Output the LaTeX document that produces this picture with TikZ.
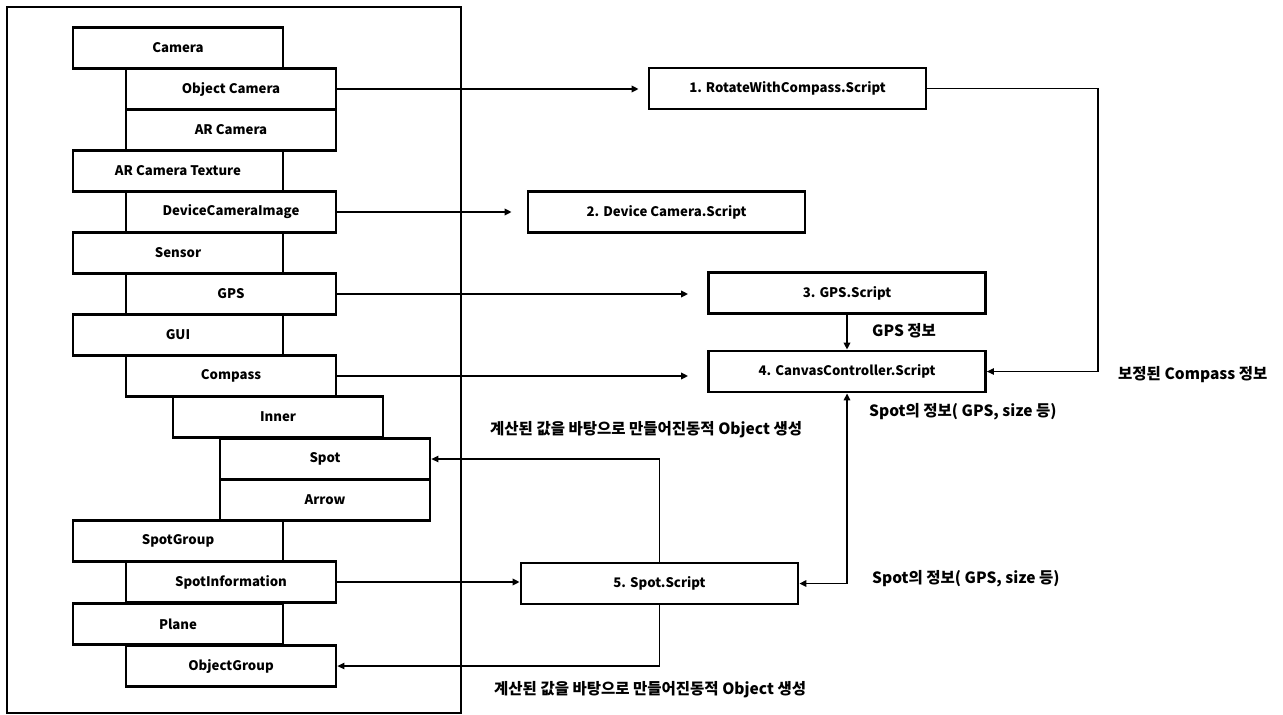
\documentclass[tikz,border=0pt]{standalone}
\usepackage{fontspec}
\setmainfont{Noto Sans CJK KR}
\usetikzlibrary{arrows.meta}
\begin{document}
\begin{tikzpicture}[x=1pt,y=-1pt,
  txt/.style={font=\bfseries\fontsize{13.2}{15}\selectfont},
  ltxt/.style={font=\bfseries\fontsize{15.5}{18}\selectfont},
  lbox/.style={draw, line width=2.8pt, minimum width=210pt, minimum height=41pt, inner sep=0pt, txt},
  sbox/.style={draw, line width=2.8pt, minimum width=277pt, minimum height=41pt, inner sep=0pt, txt},
  arr/.style={-{Triangle[length=7pt,width=6.5pt]}, line width=1.8pt},
  thin arr/.style={-{Triangle[length=7pt,width=6.5pt]}, line width=1.2pt},
  lbl/.style={ltxt, anchor=west, inner sep=0pt}
]
\useasboundingbox (0,0) rectangle (1283,715);
\fill[white] (0,0) rectangle (1283,715);
% frame
\draw[line width=2.4pt] (7,7) rectangle (461,713);
% left hierarchy
\node[lbox] (camera) at (178,48) {Camera};
\node[lbox] (objcam) at (231,89) {Object Camera};
\node[lbox] (arcam) at (231,130) {AR Camera};
\node[lbox] (artex) at (178,171) {AR Camera Texture};
\node[lbox] (devimg) at (231,212) {DeviceCameraImage};
\node[lbox] (sensor) at (178,253) {Sensor};
\node[lbox] (gps) at (231,294) {GPS};
\node[lbox] (gui) at (178,335) {GUI};
\node[lbox] (compass) at (231,376) {Compass};
\node[lbox] (inner) at (278,417) {Inner};
\node[lbox] (spot) at (325,459) {Spot};
\node[lbox] (arrow) at (325,500) {Arrow};
\node[lbox] (spotgroup) at (178,541) {SpotGroup};
\node[lbox] (spotinfo) at (231,582) {SpotInformation};
\node[lbox] (plane) at (178,624) {Plane};
\node[lbox] (objgroup) at (231,666) {ObjectGroup};
% scripts
\node[sbox] (rot) at (787.5,88.5) {1. RotateWithCompass.Script};
\node[sbox] (dev) at (666.5,212) {2. Device Camera.Script};
\node[sbox] (gpss) at (847,293) {3. GPS.Script};
\node[sbox] (canvas) at (847,371.5) {4. CanvasController.Script};
\node[sbox] (spots) at (659.5,583.5) {5. Spot.Script};
% connectors from left
\draw[arr, line width=2.2pt, shorten >=9pt] (objcam.east) -- (objcam.east -| rot.west);
\draw[arr, shorten >=15pt] (devimg.east) -- (devimg.east -| dev.west);
\draw[arr, shorten >=19pt] (gps.east) -- (gps.east -| gpss.west);
\draw[arr, shorten >=19pt] (compass.east) -- (compass.east -| canvas.west);
\draw[arr] (spotinfo.east) -- (spotinfo.east -| spots.west);
% between scripts
\draw[arr] (gpss.south) -- (canvas.north);
\coordinate (cr) at (1098,230);
\draw[thin arr] (rot.east) -| (cr) |- (canvas.east);
\draw[{Triangle[length=7pt,width=6.5pt]}-{Triangle[length=7pt,width=6.5pt]}, line width=1.5pt] (spots.east) -| (canvas.south);
\draw[thin arr] (spots.north) |- (spot.east);
\draw[thin arr] (spots.south) |- (objgroup.east);
% labels
\node[lbl] (l1) at (872,331) {GPS 정보};
\node[lbl] (l2) at (1118,375) {보정된 Compass 정보};
\node[lbl] (l3) at (869,412) {Spot의 정보( GPS, size 등)};
\node[lbl] (l4) at (872,579) {Spot의 정보( GPS, size 등)};
\node[lbl] (l5) at (490,430) {계산된 값을 바탕으로 만들어진동적 Object 생성};
\node[lbl] (l6) at (494,690) {계산된 값을 바탕으로 만들어진동적 Object 생성};
\end{tikzpicture}
\end{document}
